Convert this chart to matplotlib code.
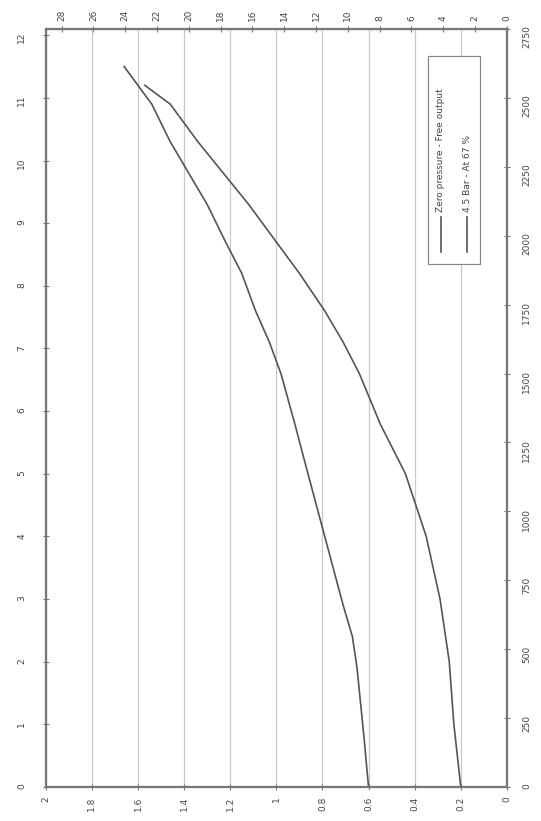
import numpy as np
import matplotlib
matplotlib.use('Agg')
import matplotlib.pyplot as plt
from matplotlib.patches import Rectangle

# flow (l/min) vs pressure (bar)
flow_free = [0, 0.8, 1.9, 2.4, 2.9, 4.0, 5.1, 5.8, 6.6, 7.1, 7.6, 8.2, 8.7, 9.3, 9.8, 10.3, 10.9, 11.5]
pres_free = [0.60, 0.62, 0.65, 0.67, 0.71, 0.79, 0.87, 0.92, 0.98, 1.03, 1.09, 1.15, 1.22, 1.30, 1.38, 1.46, 1.54, 1.66]

flow_45 = [0, 1, 2, 3, 4, 5, 5.8, 6.6, 7.1, 7.6, 8.2, 8.7, 9.3, 9.8, 10.3, 10.9, 11.2]
pres_45 = [0.20, 0.23, 0.25, 0.29, 0.35, 0.44, 0.55, 0.64, 0.71, 0.79, 0.90, 1.00, 1.12, 1.23, 1.34, 1.46, 1.57]

labels = ['Zero pressure - Free output', '4.5 Bar - At 67 %']

bar_ticks = np.arange(0, 2.01, 0.2)
psi_ticks = np.arange(0, 29, 2)
flow_ticks = np.arange(0, 13, 1)
rpm_ticks = np.arange(0, 2751, 250)

txt = '#444444'
line_col = '#555555'
tick_kw = dict(labelrotation=90, labelsize=6.5, labelcolor=txt, color='#777777',
               direction='inout', length=4)

fig = plt.figure(figsize=(5.41, 8.21), dpi=100)
ax = fig.add_axes([0.0845, 0.0414, 0.8525, 0.9233])

ax.plot(pres_free, flow_free, color=line_col, lw=1.2)
ax.plot(pres_45, flow_45, color=line_col, lw=1.2)

ax.set_xlim(2, 0)
ax.set_ylim(0, 12.1)
ax.set_xticks(bar_ticks)
ax.set_xticklabels([f'{v:g}' for v in bar_ticks])
ax.set_yticks(flow_ticks)
ax.grid(axis='x', color='#c8c8c8', lw=0.9)
ax.tick_params(**tick_kw)
ax.tick_params(axis='y', pad=12)
ax.tick_params(axis='x', pad=5)

for s in ax.spines.values():
    s.set_color('#777777')
    s.set_linewidth(1.6)

# top: psi
top = ax.secondary_xaxis('top', functions=(lambda p: p * 14.5, lambda s: s / 14.5))
top.set_xticks(psi_ticks)
top.tick_params(**tick_kw)

# right: rpm
right = ax.twinx()
right.set_ylim(0, 2750)
right.set_yticks(rpm_ticks)
right.tick_params(pad=9, **tick_kw)
for s in right.spines.values():
    s.set_visible(False)

# legend drawn by hand so the text can stand rotated
ax.add_patch(Rectangle((0.828, 0.69), 0.114, 0.275, transform=ax.transAxes,
                       fill=True, facecolor='white', edgecolor='#888888', lw=0.9, zorder=5))
for xpos, lab in zip([0.856, 0.914], labels):
    ax.plot([xpos, xpos], [0.706, 0.752], transform=ax.transAxes, color=line_col,
            lw=1.2, zorder=6, clip_on=False)
    ax.text(xpos, 0.758, lab, transform=ax.transAxes, rotation=90, ha='center',
            va='bottom', fontsize=6.5, color=txt, zorder=6)

fig.savefig('out.png', dpi=100)
